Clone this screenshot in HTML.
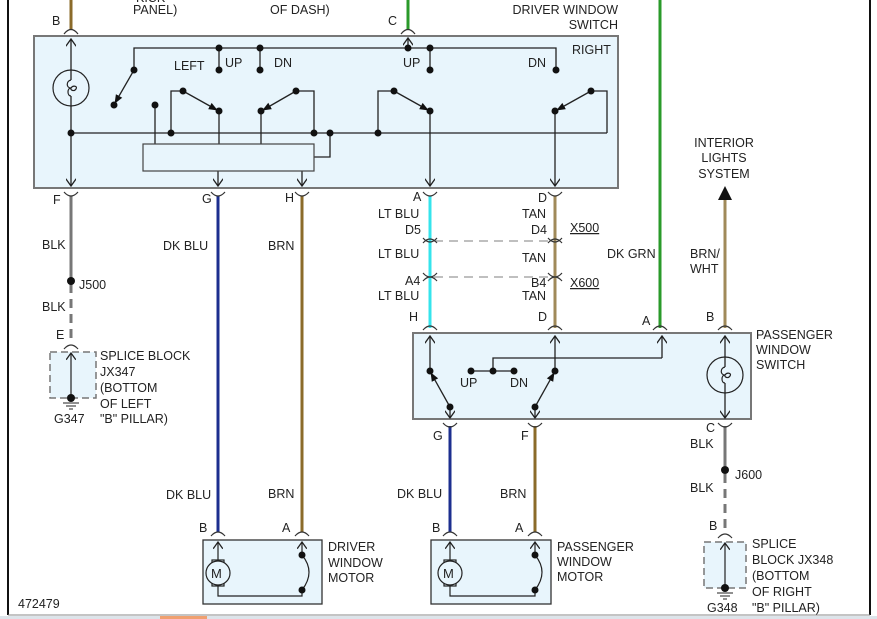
<!DOCTYPE html>
<html><head><meta charset="utf-8"><style>
html,body{margin:0;padding:0;background:#fff;width:877px;height:619px;overflow:hidden}
svg text{font-family:"Liberation Sans",Arial,sans-serif;font-size:12.5px;fill:#222}
</style></head><body>
<svg width="877" height="619" viewBox="0 0 877 619" xmlns="http://www.w3.org/2000/svg">
<defs>
<marker id="ah" viewBox="0 0 10 10" refX="9" refY="5" markerWidth="7" markerHeight="7" orient="auto"><path d="M0,1 L10,5 L0,9 z" fill="#111"/></marker>
<marker id="oa" viewBox="0 0 10 10" refX="9" refY="5" markerWidth="8" markerHeight="8" orient="auto"><path d="M2,0 L9,5 L2,10" fill="none" stroke="#222" stroke-width="1.3"/></marker>
</defs>
<line x1="8" y1="0" x2="8" y2="615" stroke="#111" stroke-width="2"/>
<line x1="870" y1="0" x2="870" y2="615" stroke="#111" stroke-width="2"/>
<line x1="8" y1="615" x2="870" y2="615" stroke="#888" stroke-width="1"/>
<rect x="0" y="616" width="877" height="3" fill="#dde4ea"/>
<rect x="160" y="616" width="47" height="3" fill="#f0a070"/>

<g stroke-width="3" fill="none">
<line x1="71" y1="0" x2="71" y2="30" stroke="#8b6b2a"/>
<line x1="408" y1="0" x2="408" y2="30" stroke="#2a9a2a"/>
<line x1="660" y1="0" x2="660" y2="328" stroke="#2a9a2a"/>
<line x1="71" y1="196" x2="71" y2="278" stroke="#777"/>
<line x1="71" y1="284" x2="71" y2="342" stroke="#777" stroke-dasharray="9,6"/>
<line x1="218" y1="196" x2="218" y2="532" stroke="#1c2f8f"/>
<line x1="302" y1="196" x2="302" y2="532" stroke="#8b6b2a"/>
<line x1="430" y1="196" x2="430" y2="328" stroke="#35e4ec"/>
<line x1="555" y1="196" x2="555" y2="328" stroke="#a08a5a"/>
<line x1="725" y1="200" x2="725" y2="328" stroke="#a08a5a"/>
<line x1="450" y1="426" x2="450" y2="532" stroke="#1c2f8f"/>
<line x1="535" y1="426" x2="535" y2="532" stroke="#8b6b2a"/>
<line x1="725" y1="426" x2="725" y2="466" stroke="#777"/>
<line x1="725" y1="474" x2="725" y2="532" stroke="#777" stroke-dasharray="9,6"/>
</g>
<polygon points="718,200 732,200 725,186" fill="#111"/>
<g stroke="#999" stroke-width="1.2" stroke-dasharray="9,6">
<line x1="434" y1="241" x2="551" y2="241"/><line x1="434" y1="277" x2="551" y2="277"/>
</g>
<g fill="none" stroke="#333" stroke-width="1.2">
<path d="M64,34 Q71,25 78,34"/><path d="M401,34 Q408,25 415,34"/>
<path d="M64,192 Q71,200 78,192"/><path d="M211,192 Q218,200 225,192"/><path d="M295,192 Q302,200 309,192"/><path d="M423,192 Q430,200 437,192"/><path d="M548,192 Q555,200 562,192"/>
<path d="M423,243 Q430,235 437,243"/><path d="M548,243 Q555,235 562,243"/>
<path d="M423,238 Q430,246 437,238" /><path d="M548,238 Q555,246 562,238"/>
<path d="M423,273 Q430,281 437,273"/><path d="M548,273 Q555,281 562,273"/>
<path d="M423,281 Q430,273 437,281"/><path d="M548,281 Q555,273 562,281"/>
<path d="M423,330 Q430,322 437,330"/><path d="M548,330 Q555,322 562,330"/><path d="M653,330 Q660,322 667,330"/><path d="M718,330 Q725,322 732,330"/>
<path d="M443,423 Q450,431 457,423"/><path d="M528,423 Q535,431 542,423"/><path d="M718,423 Q725,431 732,423"/>
<path d="M64,349 Q71,341 78,349"/><path d="M718,538 Q725,530 732,538"/>
<path d="M211,536 Q218,528 225,536"/><path d="M295,536 Q302,528 309,536"/><path d="M443,536 Q450,528 457,536"/><path d="M528,536 Q535,528 542,536"/>
</g>

<rect x="34" y="36" width="584" height="152" fill="#e8f5fc" stroke="#777" stroke-width="2"/>
<g stroke="#222" stroke-width="1.3" fill="none">
<line x1="71" y1="80" x2="71" y2="39" marker-end="url(#oa)"/>
<line x1="71" y1="96" x2="71" y2="186" marker-end="url(#oa)"/>
<line x1="71" y1="133" x2="607" y2="133"/>
<polyline points="607,133 607,91 591,91"/>
<polyline points="134,70 134,48 556,48 556,70"/>
<line x1="408" y1="48" x2="408" y2="38" marker-end="url(#oa)"/>
<line x1="219" y1="48" x2="219" y2="70"/><line x1="260" y1="48" x2="260" y2="70"/><line x1="430" y1="48" x2="430" y2="70"/>
<line x1="134" y1="70" x2="115" y2="103" marker-end="url(#ah)"/>
<line x1="155" y1="105" x2="155" y2="144"/>
<polyline points="171,133 171,91 183,91"/>
<line x1="183" y1="91" x2="217" y2="110" marker-end="url(#ah)"/>
<line x1="219" y1="111" x2="219" y2="144"/>
<polyline points="314,133 314,91 296,91"/>
<line x1="296" y1="91" x2="263" y2="110" marker-end="url(#ah)"/>
<line x1="261" y1="111" x2="261" y2="144"/>
<polyline points="330,133 330,157 314,157"/>
<polyline points="378,133 378,91 394,91"/>
<line x1="394" y1="91" x2="428" y2="110" marker-end="url(#ah)"/>
<line x1="430" y1="111" x2="430" y2="186" marker-end="url(#oa)"/>
<line x1="591" y1="91" x2="557" y2="110" marker-end="url(#ah)"/>
<line x1="555" y1="111" x2="555" y2="186" marker-end="url(#oa)"/>
<line x1="218" y1="171" x2="218" y2="186" marker-end="url(#oa)"/>
<line x1="302" y1="171" x2="302" y2="186" marker-end="url(#oa)"/>
</g>
<rect x="143" y="144" width="171" height="27" fill="#e8f5fc" stroke="#444" stroke-width="1.2"/>
<circle cx="71" cy="88" r="18" fill="none" stroke="#222" stroke-width="1.2"/>
<path d="M71,80 c-5,1 -5,8 0,8 c-4,0 -4,8 0,8 M71,88 c2,-3 7,-2 5,1 c-2,3 -6,1 -5,-1" fill="none" stroke="#222" stroke-width="1.2"/>
<g fill="#111">
<circle cx="71" cy="133" r="3.5"/><circle cx="171" cy="133" r="3.5"/><circle cx="314" cy="133" r="3.5"/><circle cx="330" cy="133" r="3.5"/><circle cx="378" cy="133" r="3.5"/>
<circle cx="219" cy="48" r="3.5"/><circle cx="260" cy="48" r="3.5"/><circle cx="408" cy="48" r="3.5"/><circle cx="430" cy="48" r="3.5"/>
<circle cx="134" cy="70" r="3.5"/><circle cx="219" cy="70" r="3.5"/><circle cx="260" cy="70" r="3.5"/><circle cx="430" cy="70" r="3.5"/><circle cx="556" cy="70" r="3.5"/>
<circle cx="114" cy="105" r="3.5"/><circle cx="155" cy="105" r="3.5"/>
<circle cx="183" cy="91" r="3.5"/><circle cx="296" cy="91" r="3.5"/><circle cx="394" cy="91" r="3.5"/><circle cx="591" cy="91" r="3.5"/>
<circle cx="219" cy="111" r="3.5"/><circle cx="261" cy="111" r="3.5"/><circle cx="430" cy="111" r="3.5"/><circle cx="555" cy="111" r="3.5"/>
</g>

<rect x="413" y="333" width="338" height="86" fill="#e8f5fc" stroke="#777" stroke-width="2"/>
<g stroke="#222" stroke-width="1.3" fill="none">
<line x1="430" y1="371" x2="430" y2="336" marker-end="url(#oa)"/>
<line x1="555" y1="371" x2="555" y2="336" marker-end="url(#oa)"/>
<line x1="450" y1="407" x2="431" y2="373" marker-end="url(#ah)"/>
<line x1="535" y1="407" x2="554" y2="373" marker-end="url(#ah)"/>
<line x1="450" y1="407" x2="450" y2="418" marker-end="url(#oa)"/>
<line x1="535" y1="407" x2="535" y2="418" marker-end="url(#oa)"/>
<line x1="471" y1="371" x2="514" y2="371"/>
<polyline points="493,371 493,358 662,358"/>
<line x1="662" y1="358" x2="662" y2="336" marker-end="url(#oa)"/>
<line x1="725" y1="367" x2="725" y2="336" marker-end="url(#oa)"/>
<line x1="725" y1="383" x2="725" y2="418" marker-end="url(#oa)"/>
</g>
<circle cx="725" cy="375" r="18" fill="none" stroke="#222" stroke-width="1.2"/>
<path d="M725,367 c-5,1 -5,8 0,8 c-4,0 -4,8 0,8 M725,375 c2,-3 7,-2 5,1 c-2,3 -6,1 -5,-1" fill="none" stroke="#222" stroke-width="1.2"/>
<g fill="#111">
<circle cx="430" cy="371" r="3.5"/><circle cx="555" cy="371" r="3.5"/><circle cx="450" cy="407" r="3.5"/><circle cx="535" cy="407" r="3.5"/>
<circle cx="471" cy="371" r="3.5"/><circle cx="493" cy="371" r="3.5"/><circle cx="514" cy="371" r="3.5"/>
<circle cx="71" cy="281" r="4"/><circle cx="725" cy="470" r="4"/>
</g>

<rect x="50" y="352" width="46" height="46" fill="#e8f5fc" stroke="#777" stroke-width="1.5" stroke-dasharray="7,4"/>
<line x1="71" y1="398" x2="71" y2="353" stroke="#222" stroke-width="1.2" marker-end="url(#oa)"/>
<circle cx="71" cy="398" r="4" fill="#111"/>
<path d="M63,403 h16 M66,406 h10 M69,409 h4" stroke="#222" stroke-width="1"/>
<rect x="704" y="542" width="42" height="46" fill="#e8f5fc" stroke="#777" stroke-width="1.5" stroke-dasharray="7,4"/>
<line x1="725" y1="588" x2="725" y2="543" stroke="#222" stroke-width="1.2" marker-end="url(#oa)"/>
<circle cx="725" cy="588" r="4" fill="#111"/>
<path d="M717,593 h16 M720,596 h10 M723,599 h4" stroke="#222" stroke-width="1"/>

<g>
<rect x="203" y="540" width="119" height="64" fill="#e8f5fc" stroke="#333" stroke-width="1.3"/>
<rect x="431" y="540" width="120" height="64" fill="#e8f5fc" stroke="#333" stroke-width="1.3"/>
<g stroke="#222" stroke-width="1.2" fill="none">
<line x1="218" y1="560" x2="218" y2="542" marker-end="url(#oa)"/>
<line x1="302" y1="555" x2="302" y2="542" marker-end="url(#oa)"/>
<rect x="212" y="560" width="12" height="26"/>
<polyline points="218,586 218,596 302,596 302,590"/>
<path d="M302,555 Q316,572 302,590"/>
<line x1="450" y1="560" x2="450" y2="542" marker-end="url(#oa)"/>
<line x1="535" y1="555" x2="535" y2="542" marker-end="url(#oa)"/>
<rect x="444" y="560" width="12" height="26"/>
<polyline points="450,586 450,596 535,596 535,590"/>
<path d="M535,555 Q549,572 535,590"/>
</g>
<circle cx="218" cy="573" r="12" fill="#e8f5fc" stroke="#222" stroke-width="1.2"/>
<circle cx="450" cy="573" r="12" fill="#e8f5fc" stroke="#222" stroke-width="1.2"/>
<text x="211" y="578" style="font-size:13px">M</text><text x="443" y="578" style="font-size:13px">M</text>
<g fill="#111"><circle cx="302" cy="555" r="3.5"/><circle cx="302" cy="590" r="3.5"/><circle cx="535" cy="555" r="3.5"/><circle cx="535" cy="590" r="3.5"/></g>
</g>

<text x="136" y="2">KICK</text>
<text x="133" y="14">PANEL)</text><text x="270" y="14">OF DASH)</text>
<text x="52" y="25">B</text><text x="388" y="25">C</text>
<text x="618" y="14" text-anchor="end">DRIVER WINDOW</text><text x="618" y="29" text-anchor="end">SWITCH</text>
<text x="572" y="54">RIGHT</text>
<text x="174" y="70">LEFT</text><text x="225" y="67">UP</text><text x="274" y="67">DN</text><text x="403" y="67">UP</text><text x="528" y="67">DN</text>
<text x="53" y="204">F</text><text x="202" y="203">G</text><text x="285" y="202">H</text><text x="413" y="201">A</text><text x="538" y="202">D</text>
<text x="42" y="249">BLK</text><text x="79" y="289">J500</text><text x="42" y="311">BLK</text><text x="56" y="339">E</text>
<text x="100" y="360">SPLICE BLOCK</text><text x="100" y="376">JX347</text><text x="100" y="392">(BOTTOM</text><text x="100" y="408">OF LEFT</text><text x="100" y="423">"B" PILLAR)</text>
<text x="54" y="423">G347</text>
<text x="163" y="250">DK BLU</text><text x="268" y="250">BRN</text>
<text x="378" y="218">LT BLU</text><text x="405" y="234">D5</text><text x="378" y="258">LT BLU</text><text x="405" y="285">A4</text><text x="378" y="300">LT BLU</text><text x="409" y="321">H</text>
<text x="522" y="218">TAN</text><text x="531" y="234">D4</text><text x="522" y="262">TAN</text><text x="531" y="287">B4</text><text x="522" y="300">TAN</text><text x="538" y="321">D</text>
<text x="570" y="232" text-decoration="underline">X500</text><text x="570" y="287" text-decoration="underline">X600</text>
<text x="607" y="258">DK GRN</text><text x="642" y="325">A</text>
<text x="724" y="147" text-anchor="middle">INTERIOR</text><text x="724" y="162" text-anchor="middle">LIGHTS</text><text x="724" y="178" text-anchor="middle">SYSTEM</text>
<text x="690" y="258">BRN/</text><text x="690" y="273">WHT</text><text x="706" y="321">B</text>
<text x="756" y="339">PASSENGER</text><text x="756" y="354">WINDOW</text><text x="756" y="369">SWITCH</text>
<text x="460" y="387">UP</text><text x="510" y="387">DN</text>
<text x="433" y="440">G</text><text x="521" y="440">F</text><text x="706" y="432">C</text><text x="690" y="448">BLK</text>
<text x="735" y="479">J600</text><text x="690" y="492">BLK</text><text x="709" y="530">B</text>
<text x="752" y="548">SPLICE</text><text x="752" y="564">BLOCK JX348</text><text x="752" y="580">(BOTTOM</text><text x="752" y="596">OF RIGHT</text><text x="752" y="612">"B" PILLAR)</text>
<text x="707" y="612">G348</text>
<text x="166" y="499">DK BLU</text><text x="268" y="498">BRN</text><text x="397" y="498">DK BLU</text><text x="500" y="498">BRN</text>
<text x="199" y="532">B</text><text x="282" y="532">A</text><text x="432" y="532">B</text><text x="515" y="532">A</text>
<text x="328" y="551">DRIVER</text><text x="328" y="567">WINDOW</text><text x="328" y="582">MOTOR</text>
<text x="557" y="551">PASSENGER</text><text x="557" y="566">WINDOW</text><text x="557" y="581">MOTOR</text>
<text x="18" y="608">472479</text>
</svg>
</body></html>
